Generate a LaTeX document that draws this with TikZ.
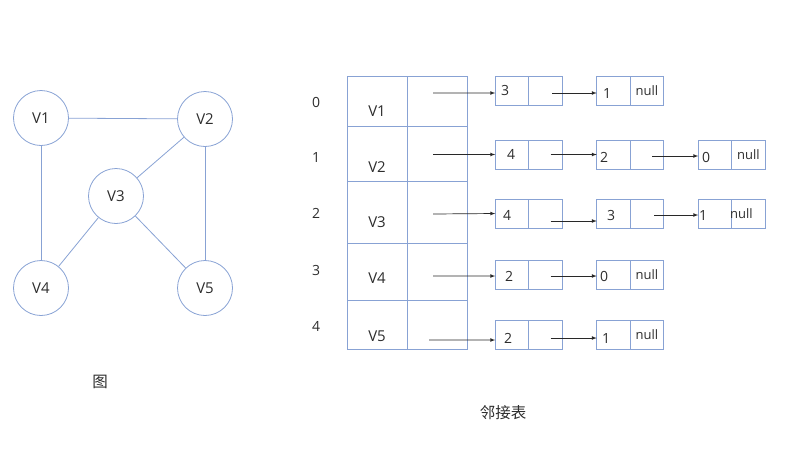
\documentclass[tikz,border=0pt]{standalone}
\usepackage{fontspec}
\setmainfont{Open Sans}
\newfontfamily\cjk{Noto Sans CJK SC}
\usepackage{tikz}
\usetikzlibrary{matrix, positioning}

\definecolor{lineblue}{RGB}{136,162,212}
\definecolor{textgray}{RGB}{45,45,45}
\definecolor{arrowgray}{RGB}{40,40,40}

\tikzset{
  vertex/.style = {draw = lineblue, line width = 0.8pt, circle,
    minimum size = 55pt, inner sep = 0pt,
    font = \fontsize{15pt}{17pt}\selectfont},
  edge/.style = {draw = lineblue, line width = 0.8pt},
  cell/.style = {draw = lineblue, line width = 0.8pt, rectangle,
    minimum width = 33.5pt, minimum height = 29pt,
    inner sep = 0pt, outer sep = 0pt},
  nullcell/.style = {cell, font = \fontsize{13pt}{15pt}\selectfont},
  caption/.style = {font = \cjk\fontsize{15.5pt}{18pt}\selectfont},
  pointer/.style = {-latex, draw = arrowgray, line width = 0.7pt},
}

\begin{document}
\begin{tikzpicture}[x = 1pt, y = -1pt, font = \fontsize{14pt}{16pt}\selectfont,
    text = textgray]
      \useasboundingbox (0,0) rectangle (800,448);

      % graph
      \node [vertex] (v1) at (41,118)  {V1};
      \node [vertex] (v2) at (205,119) {V2};
      \node [vertex] (v3) at (116,196) {V3};
      \node [vertex] (v4) at (41,288)  {V4};
      \node [vertex] (v5) at (205,288) {V5};

      \draw [edge] (v1) -- (v2);
      \draw [edge] (v1) -- (v4);
      \draw [edge] (v2) -- (v3);
      \draw [edge] (v2) -- (v5);
      \draw [edge] (v3) -- (v4);
      \draw [edge] (v3) -- (v5);

      \node [caption] (graph caption) at (100,382) {图};

      % head table
      \matrix (tab) [
        matrix of nodes,
        nodes in empty cells,
        inner sep = 0pt,
        column sep = -0.8pt,
        row sep = -0.8pt,
        nodes = {
          draw = lineblue,
          line width = 0.8pt,
          rectangle,
          anchor = center,
          minimum width = 60pt,
          inner sep = 0pt,
          outer sep = 0pt,
        },
        row 1/.style = {nodes = {minimum height = 50pt}},
        row 2/.style = {nodes = {minimum height = 55pt}},
        row 3/.style = {nodes = {minimum height = 62pt}},
        row 4/.style = {nodes = {minimum height = 57pt}},
        row 5/.style = {nodes = {minimum height = 49pt}},
        ] at (407,212.5) {
           & \\
           & \\
           & \\
           & \\
           & \\
      };

      \tikzset{every node/.append style = {font = \fontsize{15pt}{17pt}\selectfont}}
      \node (name 1) [yshift = -10pt]   at (tab-1-1.center) {V1};
      \node (name 2) [yshift = -13.5pt] at (tab-2-1.center) {V2};
      \node (name 3) [yshift = -10pt]   at (tab-3-1.center) {V3};
      \node (name 4) [yshift = -6.5pt]  at (tab-4-1.center) {V4};
      \node (name 5) [yshift = -11.5pt] at (tab-5-1.center) {V5};
      \tikzset{every node/.append style = {font = \fontsize{14pt}{16pt}\selectfont}}

      \node (index 0) [xshift = -31pt, yshift = -1pt]   at (tab-1-1.west) {0};
      \node (index 1) [xshift = -31pt, yshift = -3.5pt] at (tab-2-1.west) {1};
      \node (index 2) [xshift = -31pt, yshift = -1pt]   at (tab-3-1.west) {2};
      \node (index 3) [xshift = -31pt, yshift = 1.5pt]  at (tab-4-1.west) {3};
      \node (index 4) [xshift = -31pt, yshift = -1.5pt] at (tab-5-1.west) {4};

      \node [caption] (list caption) at (503,413) {邻接表};

      % edge lists
      \node [cell] (l0a) at (512,90.5)   {};
      \node [cell, right = 0pt of l0a] (l0a-p) {};
      \node [cell] (l0b) at (613.5,90.5) {};
      \node [nullcell, right = 0pt of l0b] (l0b-p) {null};

      \node [cell] (l1a) at (512,154.5)   {};
      \node [cell, right = 0pt of l1a] (l1a-p) {};
      \node [cell] (l1b) at (613.5,154.5) {};
      \node [cell, right = 0pt of l1b] (l1b-p) {};
      \node [cell] (l1c) at (715,154.5)   {};
      \node [nullcell, right = 0pt of l1c] (l1c-p) {null};

      \node [cell] (l2a) at (512,213.5)   {};
      \node [cell, right = 0pt of l2a] (l2a-p) {};
      \node [cell] (l2b) at (613.5,213.5) {};
      \node [cell, right = 0pt of l2b] (l2b-p) {};
      \node [cell] (l2c) at (715,213.5)   {};
      \node [cell, right = 0pt of l2c] (l2c-p) {};
      \node (l2c-null) [font = \fontsize{13pt}{15pt}\selectfont, xshift = -7pt]
        at (l2c-p.center) {null};

      \node [cell] (l3a) at (512,275)   {};
      \node [cell, right = 0pt of l3a] (l3a-p) {};
      \node [cell] (l3b) at (613.5,275) {};
      \node [nullcell, right = 0pt of l3b] (l3b-p) {null};

      \node [cell] (l4a) at (512,335)   {};
      \node [cell, right = 0pt of l4a] (l4a-p) {};
      \node [cell] (l4b) at (613.5,335) {};
      \node [nullcell, right = 0pt of l4b] (l4b-p) {null};

      \node (d0a) [xshift = -7pt]                    at (l0a.center) {3};
      \node (d0b) [xshift = -6.5pt, yshift = -2.5pt] at (l0b.center) {1};
      \node (d1a) [xshift = -1pt]                    at (l1a.center) {4};
      \node (d1b) [xshift = -9.5pt, yshift = -2.5pt] at (l1b.center) {2};
      \node (d1c) [xshift = -9pt, yshift = -2.5pt]   at (l1c.center) {0};
      \node (d2a) [xshift = -5pt, yshift = -1.5pt]   at (l2a.center) {4};
      \node (d2b) [xshift = -2.5pt, yshift = -1.5pt] at (l2b.center) {3};
      \node (d2c) [xshift = -12pt, yshift = -1.5pt]  at (l2c.center) {1};
      \node (d3a) [xshift = -3pt, yshift = -1pt]     at (l3a.center) {2};
      \node (d3b) [xshift = -9.5pt, yshift = -1pt]   at (l3b.center) {0};
      \node (d4a) [xshift = -4pt, yshift = -3pt]     at (l4a.center) {2};
      \node (d4b) [xshift = -7.5pt, yshift = -3pt]   at (l4b.center) {1};

      % head pointers
      \draw [pointer] ([shift = {(-4pt,8pt)}]tab-1-2.center)
        -- ([yshift = -2.5pt]l0a.west);
      \draw [pointer] ([shift = {(-4pt,-1pt)}]tab-2-2.center) -- (l1a.west);
      \draw [pointer] ([shift = {(-4pt,-2pt)}]tab-3-2.center) -- (l2a.west);
      \draw [pointer] ([shift = {(-4pt,-4.5pt)}]tab-4-2.center)
        -- ([yshift = -1pt]l3a.west);
      \draw [pointer] ([shift = {(-8pt,-15.5pt)}]tab-5-2.center)
        -- ([yshift = -5pt]l4a.west);

      % next pointers
      \draw [pointer] ([shift = {(6.5pt,-2.5pt)}]l0a-p.center)
        -- ([yshift = -2.5pt]l0b.west);
      \draw [pointer] ([xshift = 5pt]l1a-p.center) -- (l1b.west);
      \draw [pointer] ([shift = {(5pt,-1.5pt)}]l1b-p.center)
        -- ([yshift = -1.5pt]l1c.west);
      \draw [pointer] ([shift = {(5pt,-7.5pt)}]l2a-p.center)
        -- ([yshift = -7.5pt]l2b.west);
      \draw [pointer] ([shift = {(7pt,-1.5pt)}]l2b-p.center)
        -- ([yshift = -1.5pt]l2c.west);
      \draw [pointer] ([shift = {(5pt,-1pt)}]l3a-p.center)
        -- ([yshift = -1pt]l3b.west);
      \draw [pointer] ([shift = {(5pt,-3pt)}]l4a-p.center)
        -- ([yshift = -3pt]l4b.west);
\end{tikzpicture}
\end{document}
